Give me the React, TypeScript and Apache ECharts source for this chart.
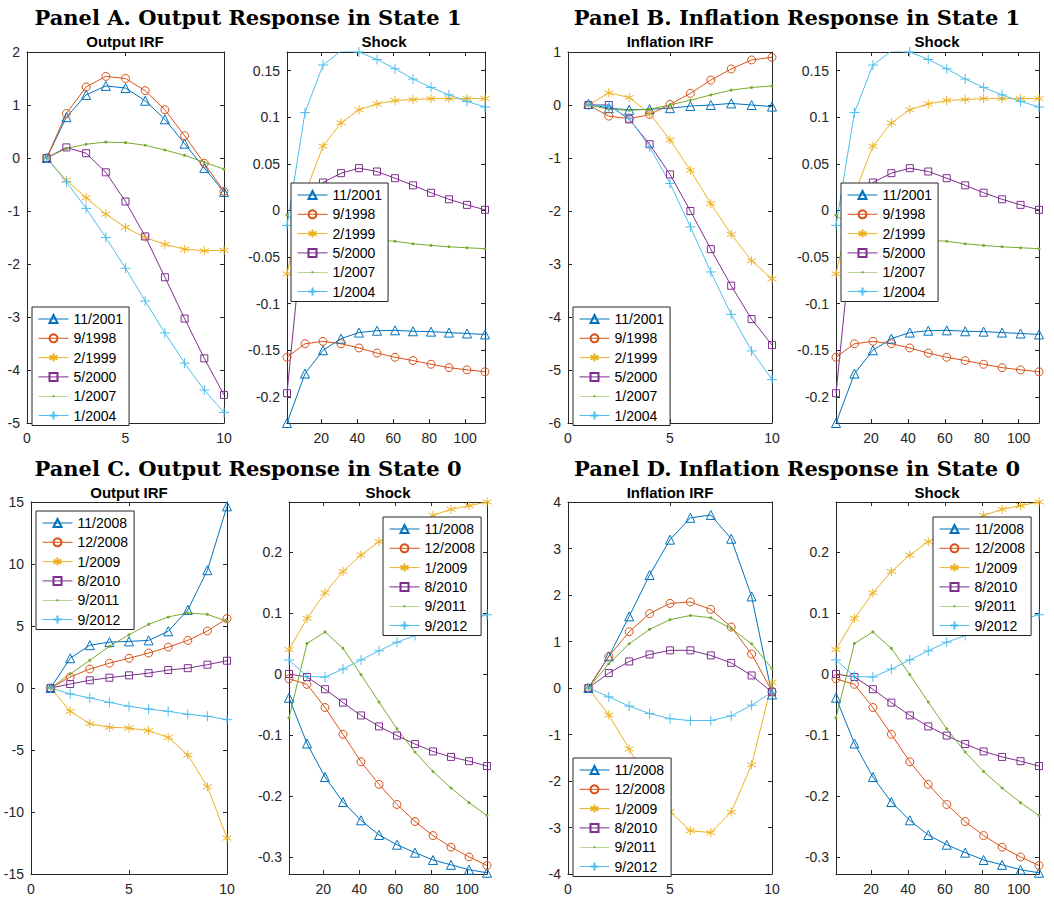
import React, { useEffect, useRef } from "react";
import * as echarts from "echarts";

const irfX = [1, 2, 3, 4, 5, 6, 7, 8, 9, 10];
const shockX = [1, 11, 21, 31, 41, 51, 61, 71, 81, 91, 101, 111];

const namesS1 = ["11/2001", "9/1998", "2/1999", "5/2000", "1/2007", "1/2004"];
const namesS0 = ["11/2008", "12/2008", "1/2009", "8/2010", "9/2011", "9/2012"];

// Panel A, output IRF in state 1
const outS1 = [
  [0, 0.77, 1.19, 1.36, 1.32, 1.08, 0.73, 0.27, -0.19, -0.64],
  [0, 0.84, 1.34, 1.54, 1.5, 1.27, 0.91, 0.42, -0.1, -0.63],
  [0, -0.42, -0.75, -1.06, -1.31, -1.5, -1.63, -1.72, -1.75, -1.74],
  [0, 0.2, 0.09, -0.27, -0.82, -1.48, -2.25, -3.03, -3.78, -4.47],
  [0, 0.18, 0.26, 0.3, 0.29, 0.24, 0.15, 0.05, -0.08, -0.21],
  [0, -0.45, -0.95, -1.5, -2.08, -2.7, -3.3, -3.87, -4.38, -4.8],
];

// Panel B, inflation IRF in state 1
const infS1 = [
  [0.02, -0.06, -0.09, -0.08, -0.06, -0.02, 0.0, 0.03, 0.0, -0.03],
  [0, -0.21, -0.26, -0.18, 0.01, 0.22, 0.47, 0.68, 0.85, 0.9],
  [0, 0.23, 0.14, -0.16, -0.66, -1.23, -1.86, -2.44, -2.94, -3.28],
  [0, 0.0, -0.27, -0.74, -1.31, -2.0, -2.72, -3.41, -4.04, -4.53],
  [0, -0.08, -0.1, -0.08, 0.0, 0.09, 0.19, 0.28, 0.33, 0.36],
  [0, -0.02, -0.25, -0.79, -1.48, -2.3, -3.15, -3.95, -4.64, -5.18],
];

// shocks, state 1 (panels A and B)
const shockS1 = [
  [-0.228, -0.175, -0.15, -0.1375, -0.131, -0.129, -0.1286, -0.1296, -0.13, -0.131, -0.132, -0.133],
  [-0.1575, -0.143, -0.1404, -0.143, -0.1475, -0.153, -0.1575, -0.161, -0.165, -0.1686, -0.171, -0.173],
  [-0.068, 0.018, 0.069, 0.094, 0.108, 0.1143, 0.118, 0.119, 0.12, 0.12, 0.12, 0.12],
  [-0.196, 0.0, 0.03, 0.04, 0.0454, 0.0418, 0.0346, 0.027, 0.019, 0.012, 0.006, 0.0007],
  [-0.005, -0.02, -0.025, -0.028, -0.03, -0.032, -0.033, -0.0357, -0.0375, -0.039, -0.04, -0.041],
  [-0.016, 0.105, 0.156, 0.171, 0.17, 0.162, 0.152, 0.141, 0.132, 0.124, 0.117, 0.111],
];

// Panel C, output IRF in state 0
const outS0 = [
  [0, 2.4, 3.45, 3.7, 3.76, 3.84, 4.57, 6.3, 9.5, 14.65],
  [0, 0.89, 1.53, 2.0, 2.4, 2.82, 3.3, 3.84, 4.6, 5.6],
  [0, -1.88, -2.88, -3.17, -3.23, -3.44, -3.98, -5.4, -7.96, -12.1],
  [0, 0.32, 0.62, 0.83, 1.02, 1.2, 1.45, 1.6, 1.88, 2.2],
  [0, 1.13, 2.23, 3.36, 4.3, 5.13, 5.73, 6.05, 5.94, 5.38],
  [0, -0.48, -0.8, -1.16, -1.48, -1.7, -1.88, -2.12, -2.28, -2.55],
];

// Panel D, inflation IRF in state 0
const infS0 = [
  [0, 0.68, 1.54, 2.43, 3.19, 3.66, 3.72, 3.21, 1.97, -0.14],
  [0, 0.68, 1.21, 1.6, 1.82, 1.85, 1.69, 1.31, 0.73, -0.07],
  [0, -0.58, -1.31, -2.12, -2.66, -3.07, -3.11, -2.67, -1.65, 0.12],
  [0, 0.32, 0.57, 0.72, 0.81, 0.81, 0.7, 0.54, 0.27, -0.09],
  [0, 0.52, 0.95, 1.26, 1.47, 1.56, 1.51, 1.28, 0.95, 0.42],
  [0, -0.19, -0.39, -0.55, -0.66, -0.7, -0.7, -0.6, -0.37, -0.09],
];

// shocks, state 0 (panels C and D)
const shockS0 = [
  [-0.039, -0.114, -0.169, -0.21, -0.24, -0.264, -0.28, -0.293, -0.305, -0.313, -0.321, -0.326],
  [-0.008, -0.017, -0.055, -0.099, -0.144, -0.181, -0.214, -0.242, -0.265, -0.284, -0.3, -0.314],
  [0.04, 0.091, 0.133, 0.168, 0.195, 0.217, 0.23, 0.24, 0.26, 0.27, 0.276, 0.282],
  [0, -0.005, -0.025, -0.047, -0.068, -0.086, -0.101, -0.115, -0.127, -0.136, -0.143, -0.151],
  [-0.072, 0.05, 0.069, 0.042, -0.001, -0.046, -0.09, -0.128, -0.16, -0.187, -0.211, -0.232],
  [0.023, -0.004, -0.005, 0.008, 0.023, 0.038, 0.052, 0.063, 0.073, 0.081, 0.089, 0.097],
];

const shockTicks = [20, 40, 60, 80, 100];
const shockYS1 = [-0.2, -0.15, -0.1, -0.05, 0, 0.05, 0.1, 0.15];
const shockYS0 = [-0.3, -0.2, -0.1, 0, 0.1, 0.2];

const colors = ["#0072BD", "#D95319", "#EDB120", "#7E2F8E", "#77AC30", "#4DBEEE"];
const symbols = [
  "triangle",
  "circle",
  "path://M0,-10L0,10M-8.66,-5L8.66,5M-8.66,5L8.66,-5",
  "rect",
  "circle",
  "path://M0,-10L0,10M-10,0L10,0",
];
const symbolSizes = [9, 8, 9, 7, 3, 10];
const dotIcon = "path://M0,4.75L30,4.75L30,5.25L0,5.25Z M14,4L16,4L16,6L14,6Z";

const FONT = "'Liberation Sans', Arial, sans-serif";

const grids = [
  { left: 27, top: 52, width: 197, height: 371 },
  { left: 287, top: 52, width: 198, height: 371 },
  { left: 568, top: 52, width: 204, height: 371 },
  { left: 836, top: 52, width: 203, height: 371 },
  { left: 31, top: 502, width: 196, height: 372 },
  { left: 289, top: 502, width: 198, height: 372 },
  { left: 568, top: 502, width: 204, height: 372 },
  { left: 836, top: 502, width: 203, height: 372 },
];

const legendPos = [
  { left: 32, top: 307 },
  { left: 291, top: 183 },
  { left: 573, top: 307 },
  { left: 841, top: 183 },
  { left: 36, top: 511 },
  { left: 383, top: 517 },
  { left: 573, top: 758 },
  { left: 933, top: 517 },
];

export default function App() {
  const chartRef = useRef<HTMLDivElement>(null);

  useEffect(() => {
    if (!chartRef.current) return;
    document.body.style.margin = "0";
    const chart = echarts.init(chartRef.current, null, { renderer: "svg" });

    const tickLabel = { fontFamily: FONT, fontSize: 14, color: "#262626" };

    const irfAxis = (i: number, mirror = false) => ({
      gridIndex: i,
      type: "value",
      position: mirror ? "top" : "bottom",
      min: 0,
      max: 10,
      interval: 5,
      axisLine: { onZero: false, lineStyle: { color: "#262626" } },
      axisTick: { inside: true, length: 4 },
      axisLabel: { ...tickLabel, margin: 8, show: !mirror },
      splitLine: { show: false },
    });
    const shockAxis = (i: number, mirror = false) => ({
      gridIndex: i,
      type: "value",
      position: mirror ? "top" : "bottom",
      min: 1,
      max: 111,
      axisLine: { onZero: false, lineStyle: { color: "#262626" } },
      axisTick: { inside: true, length: 4, customValues: shockTicks },
      axisLabel: { ...tickLabel, margin: 8, customValues: shockTicks, show: !mirror },
      splitLine: { show: false },
    });
    const yAxis = (i: number, min: number, max: number, interval?: number, custom?: number[], mirror = false) => ({
      gridIndex: i,
      type: "value",
      position: mirror ? "right" : "left",
      min,
      max,
      interval,
      axisLine: { show: true, onZero: false, lineStyle: { color: "#262626" } },
      axisTick: { show: true, inside: true, length: 4, customValues: custom },
      axisLabel: { ...tickLabel, margin: 7, customValues: custom, show: !mirror },
      splitLine: { show: false },
    });

    const ids = [0, 1, 2, 3, 4, 5, 6, 7];
    const xAxes = [
      ...ids.map((i) => (i % 2 === 0 ? irfAxis(i) : shockAxis(i))),
      ...ids.map((i) => (i % 2 === 0 ? irfAxis(i, true) : shockAxis(i, true))),
    ];
    const yRanges: [number, number, number | undefined, number[] | undefined][] = [
      [-5, 2, 1, undefined],
      [-0.228, 0.17, undefined, shockYS1],
      [-6, 1, 1, undefined],
      [-0.228, 0.17, undefined, shockYS1],
      [-15, 15, 5, undefined],
      [-0.328, 0.282, undefined, shockYS0],
      [-4, 4, 1, undefined],
      [-0.328, 0.282, undefined, shockYS0],
    ];
    const yAxes = [
      ...ids.map((i) => yAxis(i, ...yRanges[i])),
      ...ids.map((i) => yAxis(i, ...yRanges[i], true)),
    ];

    const panels = [
      { data: outS1, x: irfX, names: namesS1 },
      { data: shockS1, x: shockX, names: namesS1 },
      { data: infS1, x: irfX, names: namesS1 },
      { data: shockS1, x: shockX, names: namesS1 },
      { data: outS0, x: irfX, names: namesS0 },
      { data: shockS0, x: shockX, names: namesS0 },
      { data: infS0, x: irfX, names: namesS0 },
      { data: shockS0, x: shockX, names: namesS0 },
    ];

    const series: any[] = [];
    panels.forEach((p, gi) => {
      p.data.forEach((vals, k) => {
        series.push({
          type: "line",
          name: p.names[k],
          xAxisIndex: gi,
          yAxisIndex: gi,
          data: vals.map((v, j) => [p.x[j], v]),
          symbol: symbols[k],
          symbolSize: symbolSizes[k],
          showAllSymbol: true,
          lineStyle: { color: colors[k], width: 1, type: "solid" },
          itemStyle: {
            color: k === 4 ? colors[k] : "rgba(255,255,255,0)",
            borderColor: colors[k],
            borderWidth: k === 4 ? 0 : 1,
            borderType: "solid",
          },
          emphasis: { disabled: true },
        });
      });
    });

    const legends = panels.map((p, gi) => ({
      ...legendPos[gi],
      orient: "vertical",
      data: p.names.map((n, k) =>
        k === 4 ? { name: n, icon: dotIcon, itemStyle: { color: colors[4] } } : { name: n }
      ),
      backgroundColor: "#fff",
      borderColor: "#262626",
      borderWidth: 1,
      borderRadius: 0,
      padding: [5, 6, 3, 6],
      itemWidth: 30,
      itemHeight: 10,
      itemGap: 5.3,
      lineStyle: { width: 1 },
      selectedMode: false,
      textStyle: { fontFamily: FONT, fontSize: 14, color: "#000" },
    }));

    const bigTitle = (text: string, x: number, y: number) => ({
      type: "text",
      x,
      y,
      style: {
        text,
        textAlign: "center",
        textVerticalAlign: "middle",
        font: "bold 21px 'DejaVu Serif', 'Liberation Serif', serif",
        fill: "#000",
      },
    });
    const subTitle = (text: string, x: number, y: number) => ({
      type: "text",
      x,
      y,
      style: {
        text,
        textAlign: "center",
        textVerticalAlign: "middle",
        font: `bold 15px ${FONT}`,
        fill: "#000",
      },
    });

    const graphic = [
      bigTitle("Panel A. Output Response in State 1", 248, 17),
      bigTitle("Panel B. Inflation Response in State 1", 797, 17),
      bigTitle("Panel C. Output Response in State 0", 248, 468),
      bigTitle("Panel D. Inflation Response in State 0", 797, 468),
      subTitle("Output IRF", 125, 41),
      subTitle("Shock", 384, 41),
      subTitle("Inflation IRF", 670, 41),
      subTitle("Shock", 937, 41),
      subTitle("Output IRF", 129, 492),
      subTitle("Shock", 388, 492),
      subTitle("Inflation IRF", 670, 492),
      subTitle("Shock", 937, 492),
    ];

    chart.setOption({
      animation: false,
      backgroundColor: "#fff",
      grid: grids.map((g) => ({ ...g, show: false })),
      xAxis: xAxes,
      yAxis: yAxes,
      legend: legends,
      series,
      graphic,
    });

    return () => chart.dispose();
  }, []);

  return <div ref={chartRef} style={{ width: 1054, height: 902 }} />;
}
